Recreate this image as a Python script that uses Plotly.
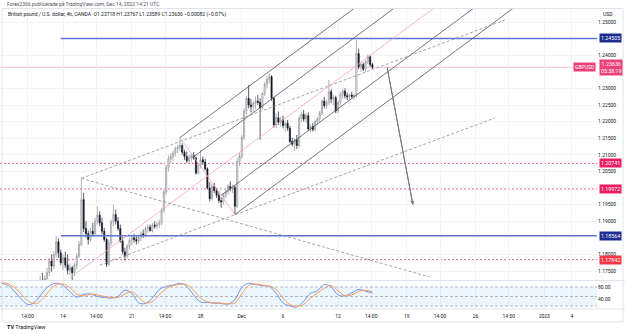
import plotly.graph_objects as go

W, H = 625, 334

# ---------------- data ----------------
# candle index j: 0 = first 4h candle of Mon 14 Nov 2022 (6 candles per trading day)
candle_j = list(range(-10, 136))
opens = [1.1660,1.1720,1.1712,1.1728,1.1745,1.1780,1.1765,1.1800,1.1838,1.1805,
 1.1775,1.1790,1.1768,1.1752,1.1760,1.1745,
 1.1768,1.1795,1.1830,1.1965,1.1878,1.1862,
 1.1845,1.1870,1.1862,1.1900,1.1918,1.1895,
 1.1870,1.1845,1.1770,1.1835,1.1898,1.1920,
 1.1900,1.1878,1.1840,1.1808,1.1795,1.1825,
 1.1842,1.1850,1.1845,1.1840,1.1852,1.1862,
 1.1858,1.1878,1.1882,1.1872,1.1888,1.1885,
 1.1890,1.1895,1.1932,1.1988,1.2062,1.2088,
 1.2095,1.2105,1.2118,1.2122,1.2128,1.2108,
 1.2095,1.2082,1.2092,1.2098,1.2090,1.2045,
 1.2068,1.2085,1.2078,1.2058,1.2000,1.1968,
 1.2005,1.1992,1.1978,1.1962,1.1958,1.1978,
 1.1988,1.2005,1.1998,1.2002,1.1945,1.2080,
 1.2095,1.2152,1.2232,1.2270,1.2250,1.2245,
 1.2255,1.2262,1.2258,1.2242,1.2285,1.2312,
 1.2328,1.2335,1.2270,1.2190,1.2212,1.2198,
 1.2205,1.2188,1.2195,1.2180,1.2140,1.2132,
 1.2145,1.2128,1.2210,1.2222,1.2208,1.2218,
 1.2178,1.2185,1.2176,1.2200,1.2208,1.2226,
 1.2262,1.2248,1.2258,1.2290,1.2268,1.2272,
 1.2232,1.2258,1.2282,1.2292,1.2278,1.2275,
 1.2280,1.2276,1.2278,1.2405,1.2365,1.2372,
 1.2358,1.2380,1.2395,1.23718]
highs = [1.1735,1.1745,1.1738,1.1760,1.1790,1.1800,1.1810,1.1855,1.1848,1.1815,
 1.1800,1.1808,1.1800,1.1772,1.1765,1.1775,
 1.1805,1.1840,1.2029,1.1985,1.1900,1.1872,
 1.1880,1.1895,1.1910,1.1945,1.1930,1.1910,
 1.1880,1.1850,1.1845,1.1905,1.1950,1.1935,
 1.1912,1.1890,1.1852,1.1820,1.1830,1.1850,
 1.1858,1.1862,1.1855,1.1860,1.1870,1.1875,
 1.1885,1.1892,1.1890,1.1895,1.1900,1.1898,
 1.1905,1.1940,1.1995,1.2070,1.2098,1.2105,
 1.2112,1.2125,1.2130,1.2153,1.2135,1.2115,
 1.2110,1.2100,1.2105,1.2108,1.2095,1.2075,
 1.2114,1.2095,1.2088,1.2062,1.2018,1.2012,
 1.2015,1.2000,1.1990,1.1972,1.1985,1.1995,
 1.2012,1.2020,1.2010,1.2008,1.2090,1.2105,
 1.2160,1.2240,1.2278,1.2310,1.2268,1.2262,
 1.2275,1.2280,1.2270,1.2290,1.2320,1.2338,
 1.2346,1.2340,1.2275,1.2225,1.2230,1.2215,
 1.2218,1.2200,1.2205,1.2188,1.2152,1.2150,
 1.2160,1.2218,1.2230,1.2235,1.2225,1.2228,
 1.2192,1.2195,1.2205,1.2215,1.2232,1.2268,
 1.2275,1.2265,1.2325,1.2298,1.2280,1.2278,
 1.2262,1.2290,1.2298,1.2300,1.2288,1.2285,
 1.2290,1.2285,1.2445,1.2420,1.2380,1.2378,
 1.2385,1.2402,1.2400,1.23767]
lows = [1.1650,1.1700,1.1695,1.1718,1.1735,1.1748,1.1755,1.1790,1.1790,1.1768,
 1.1752,1.1760,1.1740,1.1738,1.1712,1.1735,
 1.1755,1.1788,1.1825,1.1868,1.1850,1.1830,
 1.1838,1.1855,1.1855,1.1890,1.1885,1.1860,
 1.1838,1.1762,1.1765,1.1825,1.1885,1.1890,
 1.1870,1.1835,1.1800,1.1782,1.1790,1.1815,
 1.1828,1.1835,1.1830,1.1832,1.1840,1.1850,
 1.1852,1.1865,1.1868,1.1866,1.1878,1.1875,
 1.1880,1.1888,1.1925,1.1980,1.2050,1.2075,
 1.2082,1.2095,1.2105,1.2110,1.2100,1.2085,
 1.2075,1.2072,1.2080,1.2085,1.2040,1.2040,
 1.2060,1.2070,1.2052,1.1995,1.1960,1.1962,
 1.1985,1.1970,1.1955,1.1940,1.1950,1.1970,
 1.1980,1.1990,1.1985,1.1920,1.1940,1.2065,
 1.2088,1.2145,1.2222,1.2240,1.2228,1.2230,
 1.2238,1.2250,1.2145,1.2235,1.2278,1.2300,
 1.2315,1.2262,1.2182,1.2180,1.2190,1.2185,
 1.2180,1.2170,1.2172,1.2135,1.2125,1.2112,
 1.2118,1.2122,1.2198,1.2200,1.2195,1.2172,
 1.2168,1.2170,1.2170,1.2192,1.2200,1.2220,
 1.2240,1.2238,1.2250,1.2255,1.2250,1.2225,
 1.2225,1.2250,1.2268,1.2270,1.2265,1.2268,
 1.2270,1.2265,1.2272,1.2358,1.2350,1.2352,
 1.2350,1.2372,1.2365,1.23589]
closes = [1.1720,1.1712,1.1728,1.1745,1.1780,1.1765,1.1800,1.1838,1.1805,1.1775,
 1.1790,1.1768,1.1752,1.1760,1.1745,1.1768,
 1.1795,1.1830,1.1965,1.1878,1.1862,1.1845,
 1.1870,1.1862,1.1900,1.1918,1.1895,1.1870,
 1.1845,1.1770,1.1835,1.1898,1.1920,1.1900,
 1.1878,1.1840,1.1808,1.1795,1.1825,1.1842,
 1.1850,1.1845,1.1840,1.1852,1.1862,1.1858,
 1.1878,1.1882,1.1872,1.1888,1.1885,1.1890,
 1.1895,1.1932,1.1988,1.2062,1.2088,1.2095,
 1.2105,1.2118,1.2122,1.2128,1.2108,1.2095,
 1.2082,1.2092,1.2098,1.2090,1.2045,1.2068,
 1.2085,1.2078,1.2058,1.2000,1.1968,1.2005,
 1.1992,1.1978,1.1962,1.1958,1.1978,1.1988,
 1.2005,1.1998,1.2002,1.1945,1.2080,1.2095,
 1.2152,1.2232,1.2270,1.2250,1.2245,1.2255,
 1.2262,1.2258,1.2242,1.2285,1.2312,1.2328,
 1.2335,1.2270,1.2190,1.2212,1.2198,1.2205,
 1.2188,1.2195,1.2180,1.2140,1.2132,1.2145,
 1.2128,1.2210,1.2222,1.2208,1.2218,1.2178,
 1.2185,1.2176,1.2200,1.2208,1.2226,1.2262,
 1.2248,1.2258,1.2290,1.2268,1.2272,1.2232,
 1.2258,1.2282,1.2292,1.2278,1.2275,1.2280,
 1.2276,1.2278,1.2405,1.2365,1.2372,1.2358,
 1.2380,1.2395,1.2372,1.23636]

# Stochastic RSI (sampled every 3 candles)
osc_j = list(range(-27, 136, 3))
stoch_k = [92,85,65,40,24,35,62,84,92,85,65,48,57,58,50,47,45,50,70,60,30,28,45,72,82,86,92,
           82,55,33,31,29,28,26,40,78,92,88,84,82,60,30,20,17,35,60,68,88,80,55,52,62,72,67,61]
stoch_d = [95,90,78,55,35,27,42,68,87,90,78,58,52,57,55,50,47,47,58,65,48,30,34,55,75,84,88,
           88,70,45,33,30,29,27,30,58,85,90,86,83,72,45,25,19,25,45,60,76,85,68,53,55,66,70,65]

# time axis
tick_j = [-15.5, 0, 14.5, 30, 44.5, 60, 78, 96, 120, 134.5, 150, 164.5, 180, 194.5, 210, 222]
tick_txt = ["14:00", "14", "14:00", "21", "14:00", "28", "Dec", "6", "12", "14:00", "19",
            "14:00", "26", "14:00", "2023", "4"]

# price axis
price_ticks = [1.25, 1.24, 1.23, 1.225, 1.22, 1.215, 1.21, 1.205, 1.195, 1.19, 1.18, 1.175]

# horizontal levels
blue_levels = [1.24505, 1.18564]
pink_levels = [1.20741, 1.19972, 1.17842]
last_price = 1.23636

# pitchfork anchors (j, price)
pf_p1 = (3.0, 1.1729)
pf_p2 = (51.0, 1.2152)
pf_p3 = (75.0, 1.1920)

# dashed trend lines (j0, p0, j1, p1)
dashed_lines = [(8.0, 1.2029, 192.8, 1.2506),
                (8.0, 1.2029, 160.0, 1.1732),
                (16.1, 1.1768, 188.5, 1.2211)]
arrow_line = (141.4, 1.2364, 152.7, 1.1949)

# ---------------- layout geometry ----------------
J_MIN, J_MAX = -27.5, 233.0
P_MIN, P_MAX = 1.17229, 1.25392
X_RIGHT = 597 / W


def py(y):
    return 1 - y / H


fig = go.Figure()

fig.add_trace(go.Candlestick(
    x=candle_j, open=opens, high=highs, low=lows, close=closes,
    increasing=dict(line=dict(color="#8c8f98", width=0.7), fillcolor="#ffffff"),
    decreasing=dict(line=dict(color="#131722", width=0.7), fillcolor="#131722"),
    whiskerwidth=0, hoverinfo="skip", xaxis="x", yaxis="y", showlegend=False))

# oscillator band
fig.add_trace(go.Scatter(x=[J_MIN, J_MAX, J_MAX, J_MIN], y=[20, 20, 80, 80], fill="toself",
                         fillcolor="rgba(33,150,243,0.09)", line=dict(width=0),
                         mode="lines", xaxis="x2", yaxis="y2", showlegend=False, hoverinfo="skip"))
for lv in (80, 50, 20):
    fig.add_trace(go.Scatter(x=[J_MIN, J_MAX], y=[lv, lv], mode="lines",
                             line=dict(color="#a3a6af", width=0.8, dash="3px,2px"),
                             xaxis="x2", yaxis="y2", showlegend=False, hoverinfo="skip"))
fig.add_trace(go.Scatter(x=osc_j, y=stoch_k, mode="lines", line=dict(color="#6f93f5", width=1, shape="spline"),
                         xaxis="x2", yaxis="y2", showlegend=False, hoverinfo="skip"))
fig.add_trace(go.Scatter(x=osc_j, y=stoch_d, mode="lines", line=dict(color="#ff9a57", width=1, shape="spline"),
                         xaxis="x2", yaxis="y2", showlegend=False, hoverinfo="skip"))

shapes = []
# horizontal levels
for lv in pink_levels:
    shapes.append(dict(type="line", xref="x", yref="y", x0=J_MIN, x1=J_MAX, y0=lv, y1=lv,
                       line=dict(color="#f06292", width=1, dash="2px,2px"), layer="below"))
shapes.append(dict(type="line", xref="x", yref="y", x0=J_MIN, x1=J_MAX, y0=last_price, y1=last_price,
                   line=dict(color="rgba(233,30,99,0.35)", width=0.8), layer="below"))
for lv in blue_levels:
    shapes.append(dict(type="line", xref="x", yref="y", x0=-1, x1=J_MAX, y0=lv, y1=lv,
                       line=dict(color="#5a76d2", width=1.5)))

# pitchfork
mid = ((pf_p2[0] + pf_p3[0]) / 2, (pf_p2[1] + pf_p3[1]) / 2)
slope = (mid[1] - pf_p1[1]) / (mid[0] - pf_p1[0])
J_END = 260


def ray(j0, p0):
    return dict(x0=j0, y0=p0, x1=J_END, y1=p0 + slope * (J_END - j0))


shapes.append(dict(type="line", xref="x", yref="y", **ray(*pf_p1), line=dict(color="#f3a5c0", width=0.8)))
shapes.append(dict(type="line", xref="x", yref="y", x0=pf_p2[0], y0=pf_p2[1], x1=pf_p3[0], y1=pf_p3[1],
                   line=dict(color="#f3a5c0", width=0.8)))
q_up = ((pf_p2[0] + mid[0]) / 2, (pf_p2[1] + mid[1]) / 2)
q_dn = ((pf_p3[0] + mid[0]) / 2, (pf_p3[1] + mid[1]) / 2)
for anchor in (pf_p2, q_up, q_dn, pf_p3):
    shapes.append(dict(type="line", xref="x", yref="y", **ray(*anchor), line=dict(color="#50535e", width=0.8)))

for (a, b, c, d) in dashed_lines:
    shapes.append(dict(type="line", xref="x", yref="y", x0=a, y0=b, x1=c, y1=d,
                       line=dict(color="#8a8d96", width=0.8, dash="3px,2px")))
shapes.append(dict(type="line", xref="x", yref="y", x0=arrow_line[0], y0=arrow_line[1],
                   x1=arrow_line[2], y1=arrow_line[3], line=dict(color="#787b86", width=1)))

# frames / separators
shapes.append(dict(type="line", xref="paper", yref="paper", x0=0, x1=1, y0=py(280.5), y1=py(280.5),
                   line=dict(color="#e0e3eb", width=1)))
shapes.append(dict(type="line", xref="paper", yref="paper", x0=0, x1=1, y0=py(309), y1=py(309),
                   line=dict(color="#e0e3eb", width=1)))
shapes.append(dict(type="rect", xref="paper", yref="paper", x0=2 / W, x1=623 / W, y0=py(322), y1=py(8.5),
                   line=dict(color="#e0e3eb", width=1)))

fig.update_layout(shapes=shapes)

ann = []
# arrow head
ann.append(dict(x=arrow_line[2], y=arrow_line[3], ax=arrow_line[0], ay=arrow_line[1], xref="x", yref="y",
                axref="x", ayref="y", showarrow=True, arrowhead=2, arrowsize=0.8, arrowwidth=1,
                arrowcolor="#787b86", text=""))


def price_label(p, txt, bg):
    ann.append(dict(x=598.5 / W, y=p, xref="paper", yref="y", text=txt, showarrow=False,
                    xanchor="left", yanchor="middle", bgcolor=bg, borderpad=1,
                    font=dict(size=5.3, color="white", family="Roboto")))


price_label(blue_levels[0], f"{blue_levels[0]:.5f}", "#1b2e8f")
price_label(blue_levels[1], f"{blue_levels[1]:.5f}", "#1b2e8f")
price_label(pink_levels[0], f"{pink_levels[0]:.5f}", "#e91e63")
price_label(pink_levels[1], f"{pink_levels[1]:.5f}", "#e91e63")
price_label(pink_levels[2], f"{pink_levels[2]:.5f}", "#f23645")
price_label(last_price, f"{last_price:.5f}<br>05:38:19", "#ec407a")
ann.append(dict(x=596 / W, y=last_price, xref="paper", yref="y", text="GBPUSD", showarrow=False,
                xanchor="right", yanchor="middle", bgcolor="#ec407a", borderpad=1,
                font=dict(size=5, color="white", family="Roboto")))
ann.append(dict(x=601 / W, y=py(14), xref="paper", yref="paper", text="USD", showarrow=False,
                xanchor="left", yanchor="middle", font=dict(size=5, color="#131722", family="Roboto")))
ann.append(dict(x=5 / W, y=py(4), xref="paper", yref="paper",
                text="Forex2366 publicerade på TradingView.com, Dec 14, 2022 14:21 UTC", showarrow=False,
                xanchor="left", yanchor="middle", font=dict(size=5, color="#50535e", family="Roboto")))
ann.append(dict(x=6 / W, y=py(15), xref="paper", yref="paper",
                text="British pound / U.S. dollar, 4h, OANDA  O1.23718 H1.23767 L1.23589 C1.23636 −0.00082 (−0.07%)",
                showarrow=False, xanchor="left", yanchor="middle",
                font=dict(size=5, color="#131722", family="Roboto")))
ann.append(dict(x=5 / W, y=py(327), xref="paper", yref="paper", text="<b>TV</b> TradingView", showarrow=False,
                xanchor="left", yanchor="middle", font=dict(size=5.5, color="#131722", family="Roboto")))
fig.update_layout(annotations=ann)

axis_font = dict(size=5, color="#131722", family="Roboto")
fig.update_layout(
    width=W, height=H, margin=dict(l=0, r=0, t=0, b=0),
    paper_bgcolor="white", plot_bgcolor="white",
    xaxis=dict(domain=[0, X_RIGHT], range=[J_MIN, J_MAX], anchor="y", showticklabels=False,
               tickvals=tick_j, showgrid=True, gridcolor="#f3f4f7", zeroline=False,
               rangeslider=dict(visible=False), showline=False),
    yaxis=dict(domain=[py(280), py(9)], range=[P_MIN, P_MAX], side="right", tickvals=price_ticks,
               ticktext=[f"{v:.5f}" for v in price_ticks], tickfont=axis_font, showgrid=True,
               gridcolor="#f3f4f7", zeroline=False, ticks="", ticklen=0),
    xaxis2=dict(domain=[0, X_RIGHT], range=[J_MIN, J_MAX], anchor="y2", tickvals=tick_j, ticktext=tick_txt,
                tickfont=axis_font, showgrid=True, gridcolor="#f3f4f7", zeroline=False, ticks="",
                ticklabelstandoff=3),
    yaxis2=dict(domain=[py(309), py(281)], range=[10.5, 99], side="right", tickvals=[80, 40],
                ticktext=["80.00", "40.00"], tickfont=axis_font, showgrid=False, zeroline=False),
)

fig.write_html("out.html")
